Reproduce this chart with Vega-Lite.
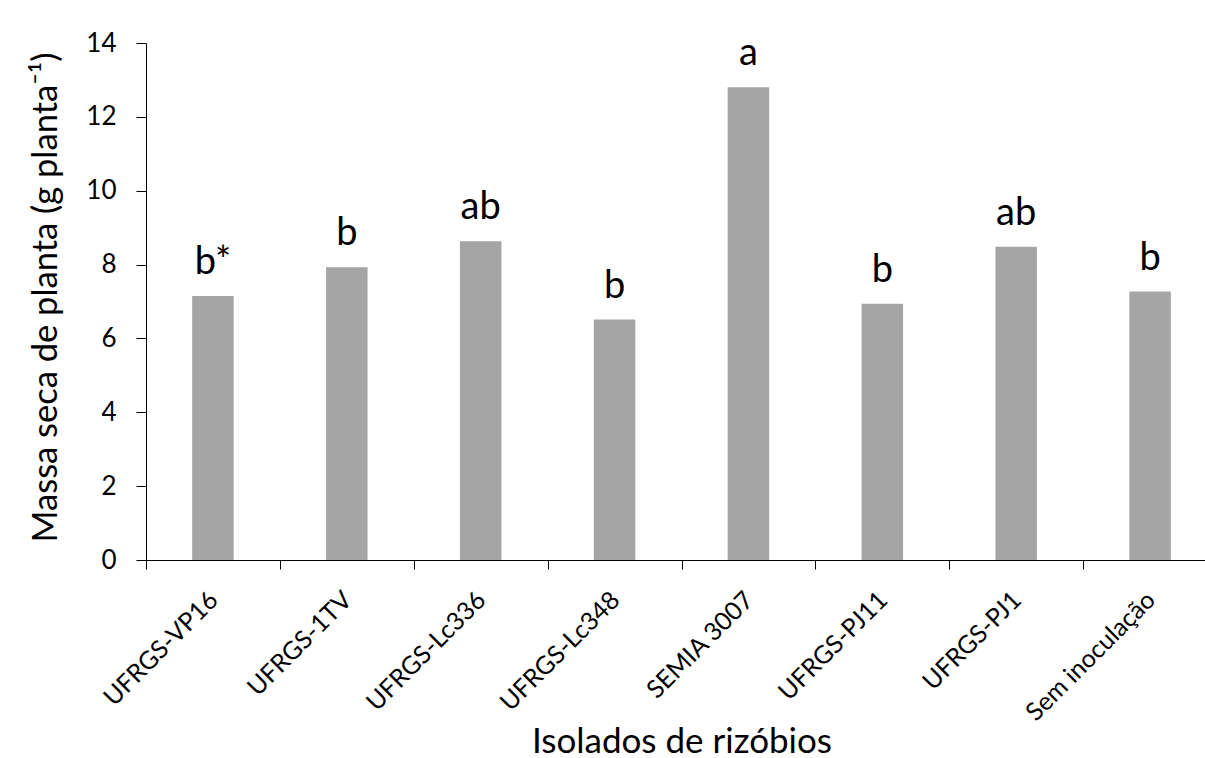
{
  "$schema": "https://vega.github.io/schema/vega-lite/v6.json",
  "width": 1059,
  "height": 517,
  "autosize": {"type": "none"},
  "padding": {"left": 146, "top": 43, "right": 0, "bottom": 198},
  "background": "white",
  "config": {"font": "Lato", "view": {"stroke": null}},
  "data": {
    "values": [
      {"isolado": "UFRGS-VP16", "massa": 7.15, "letra": "b*"},
      {"isolado": "UFRGS-1TV", "massa": 7.93, "letra": "b"},
      {"isolado": "UFRGS-Lc336", "massa": 8.63, "letra": "ab"},
      {"isolado": "UFRGS-Lc348", "massa": 6.51, "letra": "b"},
      {"isolado": "SEMIA 3007", "massa": 12.8, "letra": "a"},
      {"isolado": "UFRGS-PJ11", "massa": 6.94, "letra": "b"},
      {"isolado": "UFRGS-PJ1", "massa": 8.48, "letra": "ab"},
      {"isolado": "Sem inoculação", "massa": 7.27, "letra": "b"}
    ]
  },
  "encoding": {
    "x": {
      "field": "isolado",
      "type": "nominal",
      "sort": null,
      "scale": {"range": [0, 1071], "paddingInner": 0, "paddingOuter": 0},
      "axis": {
        "title": "Isolados de rizóbios",
        "titleFontSize": 35,
        "titleFontWeight": "normal",
        "titleColor": "black",
        "titleX": 535.5,
        "titleY": 192,
        "titleAlign": "center",
        "titleBaseline": "alphabetic",
        "labelAngle": -45,
        "labelFontSize": 25,
        "labelColor": "black",
        "labelPadding": 18,
        "labelOffset": -8,
        "tickBand": "extent",
        "tickSize": 9,
        "tickColor": "black",
        "domainColor": "black",
        "labelOverlap": false,
        "labelLimit": 400
      }
    },
    "y": {
      "field": "massa",
      "type": "quantitative",
      "scale": {"domain": [0, 14], "nice": false},
      "axis": {
        "values": [0, 2, 4, 6, 8, 10, 12, 14],
        "grid": false,
        "title": "Massa seca de planta (g planta⁻¹)",
        "titleFontSize": 34.5,
        "titleFontWeight": "normal",
        "titleColor": "black",
        "titleX": -90,
        "titleY": 254,
        "titleAlign": "center",
        "titleBaseline": "alphabetic",
        "labelFontSize": 26,
        "labelColor": "black",
        "labelPadding": 20,
        "tickSize": 10,
        "tickColor": "black",
        "domainColor": "black"
      }
    }
  },
  "layer": [
    {"mark": {"type": "bar", "color": "#A5A5A5", "width": {"band": 0.31}}},
    {
      "mark": {"type": "text", "baseline": "alphabetic", "dy": -22, "fontSize": 38, "color": "black"},
      "encoding": {"text": {"field": "letra"}}
    }
  ]
}
